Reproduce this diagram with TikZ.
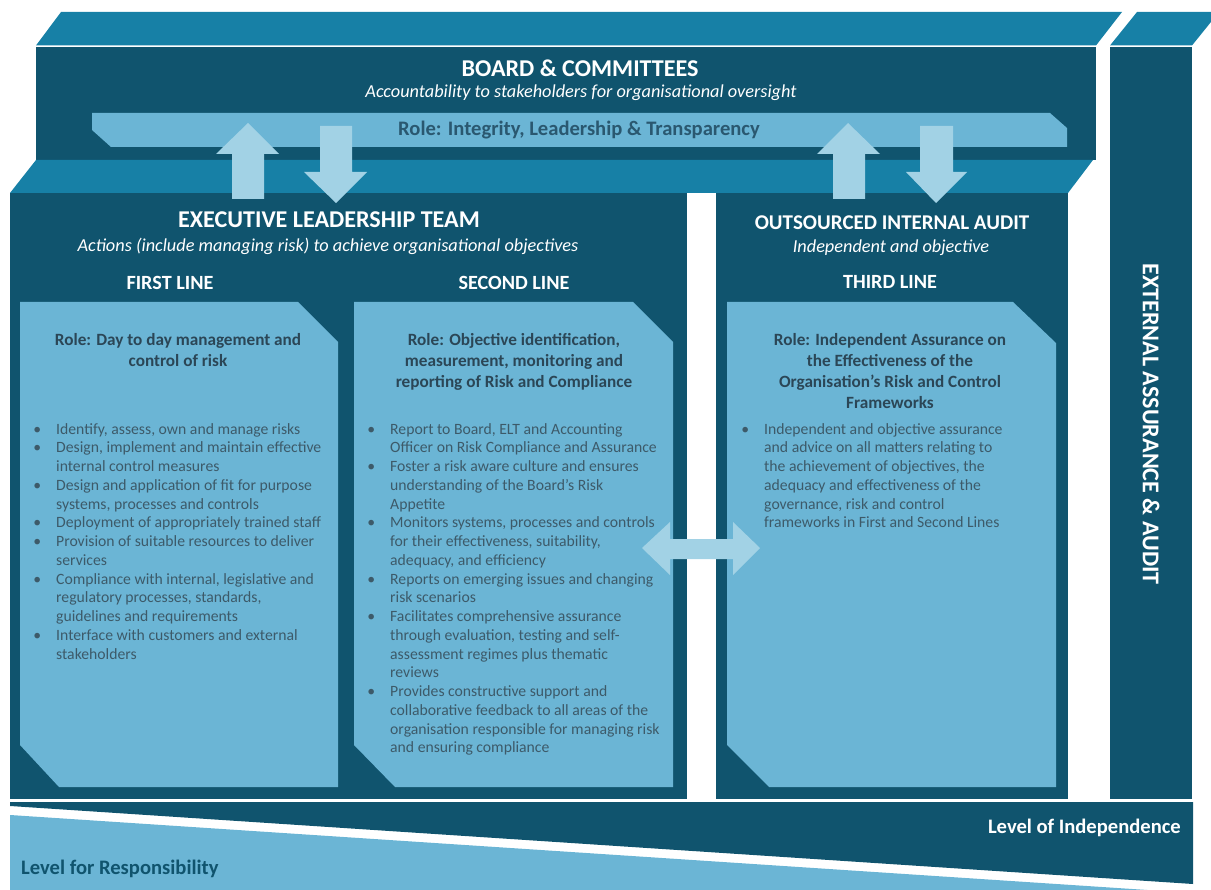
\documentclass[tikz,border=0pt]{standalone}
\usepackage{fontspec}
\setmainfont{Carlito}
\definecolor{darkc}{HTML}{10546E}
\definecolor{facec}{HTML}{1780A6}
\definecolor{lightc}{HTML}{6BB5D5}
\definecolor{arrowc}{HTML}{A2D2E5}
\definecolor{txtc}{HTML}{3D5A69}
\definecolor{headc}{HTML}{2B4656}
\definecolor{bandtxt}{HTML}{2A5870}
\newcommand{\bl}{\llap{\textbullet\hspace{15pt}}}
\begin{document}
\begin{tikzpicture}[x=1pt,y=-1pt,
  ttl/.style={text=white, font=\bfseries\fontsize{24.1}{28}\selectfont, inner sep=0},
  oiattl/.style={text=white, font=\bfseries\fontsize{21}{25}\selectfont, inner sep=0},
  linettl/.style={text=white, font=\bfseries\fontsize{20.2}{24}\selectfont, inner sep=0},
  subttl/.style={text=white, font=\itshape\fontsize{18.3}{22}\selectfont, inner sep=0},
  hd/.style={text=headc, font=\bfseries\fontsize{17.2}{21}\selectfont, align=center, inner sep=0, anchor=north},
  lst/.style={text=txtc, font=\fontsize{15.7}{18.75}\selectfont, align=left, inner sep=0, anchor=north west},
  lvl/.style={font=\bfseries\fontsize{20.6}{24}\selectfont, inner sep=0},
  blk/.style={fill=arrowc}]
\useasboundingbox (0,0) rectangle (1211,890);

% top faces
\fill[facec] (61,12) -- (1122,12) -- (1096,45.5) -- (36,45.5) -- cycle;
\fill[facec] (1137,12) -- (1219,12) -- (1192,45.5) -- (1110,45.5) -- cycle;
% board front
\fill[darkc] (36,47) rectangle (1096,160);
% external front
\fill[darkc] (1110,47) rectangle (1192,799);
% role band
\fill[lightc] (92,113) -- (1050,113) -- (1067,128) -- (1067,147) -- (111,147) -- (92,130) -- cycle;
% executive face
\fill[facec] (36,160) -- (1093,160) -- (1068,193) -- (10,193) -- cycle;
% ELT and OIA fronts
\fill[darkc] (10,193) rectangle (687,799);
\fill[darkc] (716,193) rectangle (1068,799);
% inner boxes
\fill[lightc] (20,302) -- (298,302) -- (338,342) -- (338,787) -- (59,787) -- (20,745) -- cycle;
\fill[lightc] (354,302) -- (633,302) -- (673,342) -- (673,787) -- (395,787) -- (354,745) -- cycle;
\fill[lightc] (727,302) -- (1013,302) -- (1056,343) -- (1056,787) -- (769,787) -- (727,745) -- cycle;
% bottom bands
\fill[darkc] (10,802) -- (1193,802) -- (1193,884) -- (10,806) -- cycle;
\fill[lightc] (10,815) -- (1193,893) -- (1193,895) -- (10,895) -- cycle;

% vertical arrows
\fill[blk] (232,199) -- (232,154) -- (216,154) -- (248,123) -- (279,154) -- (264,154) -- (264,199) -- cycle;
\fill[blk] (320,126) -- (352,126) -- (352,172) -- (367,172) -- (336,203) -- (304,172) -- (320,172) -- cycle;
\fill[blk] (833,199) -- (833,154) -- (817,154) -- (848,123) -- (880,154) -- (865,154) -- (865,199) -- cycle;
\fill[blk] (920,126) -- (953,126) -- (953,172) -- (967,172) -- (936,203) -- (906,172) -- (920,172) -- cycle;
% double arrow
\fill[blk] (642,548) -- (670,522) -- (670,539) -- (733,539) -- (733,522) -- (760,548) -- (733,575) -- (733,559) -- (670,559) -- (670,575) -- cycle;

% texts
\node[ttl] (board) at (580,68) {BOARD \& COMMITTEES};
\node[subttl] (acc) at (581,93) {Accountability to stakeholders for organisational oversight};
\node[text=bandtxt, font=\bfseries\fontsize{20.6}{24}\selectfont, inner sep=0] (role) at (579,130) {Role: Integrity, Leadership \& Transparency};
\node[ttl] (elt) at (329,220) {EXECUTIVE LEADERSHIP TEAM};
\node[subttl] (act) at (328,246) {Actions (include managing risk) to achieve organisational objectives};
\node[oiattl] (oia) at (892,223) {OUTSOURCED INTERNAL AUDIT};
\node[subttl] (ind) at (891,248) {Independent and objective};
\node[linettl] (l1) at (170,283) {FIRST LINE};
\node[linettl] (l2) at (514,283) {SECOND LINE};
\node[linettl] (l3) at (890,282) {THIRD LINE};
\node[ttl, rotate=-90] (ext) at (1151,424) {EXTERNAL ASSURANCE \& AUDIT};
\node[lvl, text=white, anchor=east] (loi) at (1181,828) {Level of Independence};
\node[lvl, text=darkc, anchor=west] (lor) at (21,869) {Level for Responsibility};

\node[hd] (h1) at (178,333) {Role: Day to day management and\\control of risk};
\node[hd] (h2) at (514,333) {Role: Objective identification,\\measurement, monitoring and\\reporting of Risk and Compliance};
\node[hd] (h3) at (890,333) {Role: Independent Assurance on\\the Effectiveness of the\\Organisation’s  Risk and Control\\Frameworks};

\node[lst] (b1) at (56,423) {\bl Identify, assess, own and manage risks\\
\bl Design, implement  and maintain effective\\
internal control measures\\
\bl Design and application of fit for purpose\\
systems, processes and controls\\
\bl Deployment of appropriately trained staff\\
\bl Provision of suitable resources to deliver\\
services\\
\bl Compliance with internal, legislative and\\
regulatory processes, standards,\\
guidelines and requirements\\
\bl Interface with customers and external\\
stakeholders};

\node[lst] (b2) at (390,423) {\bl Report to Board, ELT and Accounting\\
Officer on Risk Compliance and Assurance\\
\bl Foster a risk aware culture and ensures\\
understanding of the Board’s Risk\\
Appetite\\
\bl Monitors systems, processes and controls\\
for their effectiveness, suitability,\\
adequacy, and efficiency\\
\bl Reports on emerging issues and changing\\
risk scenarios\\
\bl Facilitates comprehensive assurance\\
through evaluation, testing and self-\\
assessment regimes plus thematic\\
reviews\\
\bl Provides constructive support and\\
collaborative feedback to all areas of the\\
organisation responsible for managing risk\\
and ensuring compliance};

\node[lst] (b3) at (764,423) {\bl Independent and objective assurance\\
and advice on all matters relating to\\
the achievement of objectives, the\\
adequacy and effectiveness of the\\
governance, risk and control\\
frameworks in First and Second Lines};
\end{tikzpicture}
\end{document}
